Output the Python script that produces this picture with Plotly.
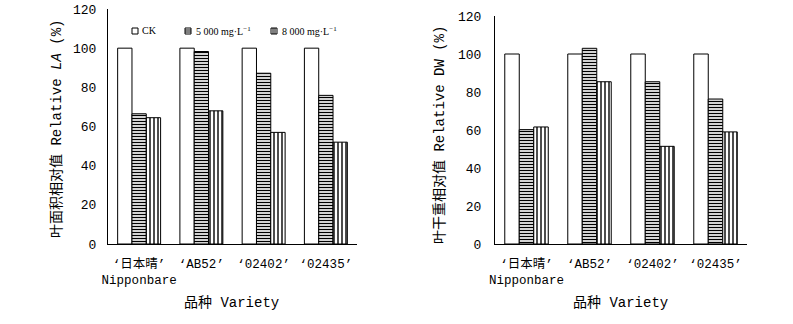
import plotly.graph_objects as go

categories = ["‘日本晴’<br>Nipponbare", "‘AB52’", "‘02402’", "‘02435’"]
series_names = ["CK", "5 000 mg·L<sup>−1</sup>", "8 000 mg·L<sup>−1</sup>"]

la_ck = [100, 100, 100, 100]
la_5000 = [66.5, 98.3, 87.2, 75.9]
la_8000 = [64.5, 68.0, 57.0, 52.0]

dw_ck = [100, 100, 100, 100]
dw_5000 = [60.2, 103.0, 85.4, 76.3]
dw_8000 = [61.6, 85.4, 51.4, 59.0]

y_ticks = [0, 20, 40, 60, 80, 100, 120]

FONT = "Liberation Mono, Noto Sans CJK SC"
LEG_FONT = "Liberation Serif, Noto Sans CJK SC"
W, H = 793, 324

patterns = [
    dict(shape="", fgcolor="black", bgcolor="white"),
    dict(shape="-", fgcolor="black", bgcolor="white", size=3, solidity=0.45),
    dict(shape="|", fgcolor="black", bgcolor="white", size=4, solidity=0.35),
]

fig = go.Figure()
for i, (vals, name) in enumerate(zip([la_ck, la_5000, la_8000], series_names)):
    fig.add_trace(go.Bar(x=categories, y=vals, name=name, xaxis="x", yaxis="y",
                         marker=dict(color="white", line=dict(color="black", width=1),
                                     pattern=patterns[i]),
                         showlegend=False))
for i, (vals, name) in enumerate(zip([dw_ck, dw_5000, dw_8000], series_names)):
    fig.add_trace(go.Bar(x=categories, y=vals, name=name, xaxis="x2", yaxis="y2",
                         marker=dict(color="white", line=dict(color="black", width=1),
                                     pattern=patterns[i]),
                         showlegend=False))

def px_x(p):
    return p / W

def px_y(p):
    return 1 - p / H

axis_common = dict(showline=True, linecolor="black", linewidth=1.2, showgrid=False,
                   zeroline=False, ticks="", automargin=False)
xfont = dict(family=FONT, size=12.5, color="black")
yfont = dict(family=FONT, size=13, color="black")

fig.update_layout(
    template="none",
    width=W, height=H,
    margin=dict(l=0, r=0, t=0, b=0),
    paper_bgcolor="white", plot_bgcolor="white",
    barmode="group", bargap=0.31, bargroupgap=0,
    font=dict(family=FONT, color="black"),
    showlegend=False,
    xaxis=dict(domain=[px_x(108), px_x(357)], anchor="y", tickangle=0, tickfont=xfont,
               ticklabelstandoff=8, **axis_common),
    yaxis=dict(domain=[px_y(244), px_y(9)], range=[0, 120], tickvals=y_ticks, anchor="x",
               tickfont=yfont, ticklabelstandoff=8, **axis_common),
    xaxis2=dict(domain=[px_x(495), px_x(747)], anchor="y2", tickangle=0, tickfont=xfont,
                ticklabelstandoff=8, **axis_common),
    yaxis2=dict(domain=[px_y(244), px_y(16)], range=[0, 120], tickvals=y_ticks, anchor="x2",
                tickfont=yfont, ticklabelstandoff=10, **axis_common),
)

# Legend (drawn in pixel positions of the reference)
legend_items = [
    (series_names[0], 132, 140, None),
    (series_names[1], 185, 194, "h"),
    (series_names[2], 271, 280, "v"),
]
ly = 31
for text, sx, tx, kind in legend_items:
    fig.add_shape(type="rect", xref="paper", yref="paper",
                  x0=px_x(sx), x1=px_x(sx + 6), y0=px_y(ly + 3), y1=px_y(ly - 3),
                  line=dict(color="black", width=1), fillcolor="white")
    if kind == "h":
        for yy in (ly - 1, ly + 1):
            fig.add_shape(type="line", xref="paper", yref="paper",
                          x0=px_x(sx), x1=px_x(sx + 6), y0=px_y(yy), y1=px_y(yy),
                          line=dict(color="black", width=1))
    elif kind == "v":
        for xx in (sx + 2, sx + 4):
            fig.add_shape(type="line", xref="paper", yref="paper",
                          x0=px_x(xx), x1=px_x(xx), y0=px_y(ly + 3), y1=px_y(ly - 3),
                          line=dict(color="black", width=1))
    fig.add_annotation(text=text, x=px_x(tx), y=px_y(ly), xref="paper", yref="paper",
                       showarrow=False, xanchor="left", yanchor="middle",
                       font=dict(family=LEG_FONT, size=10, color="black"))

annos = [
    dict(text="叶面积相对值 Relative <i>LA</i> (%)", x=px_x(57), y=px_y(129), textangle=-90),
    dict(text="叶干重相对值 Relative DW (%)", x=px_x(440), y=px_y(135), textangle=-90),
    dict(text="品种 Variety", x=px_x(231), y=px_y(303), textangle=0),
    dict(text="品种 Variety", x=px_x(620), y=px_y(303), textangle=0),
]
for a in annos:
    fig.add_annotation(text=a["text"], x=a["x"], y=a["y"], xref="paper", yref="paper",
                       textangle=a["textangle"], showarrow=False, xanchor="center",
                       yanchor="middle", font=dict(family=FONT, size=14, color="black"))

fig.write_html("out.html")
